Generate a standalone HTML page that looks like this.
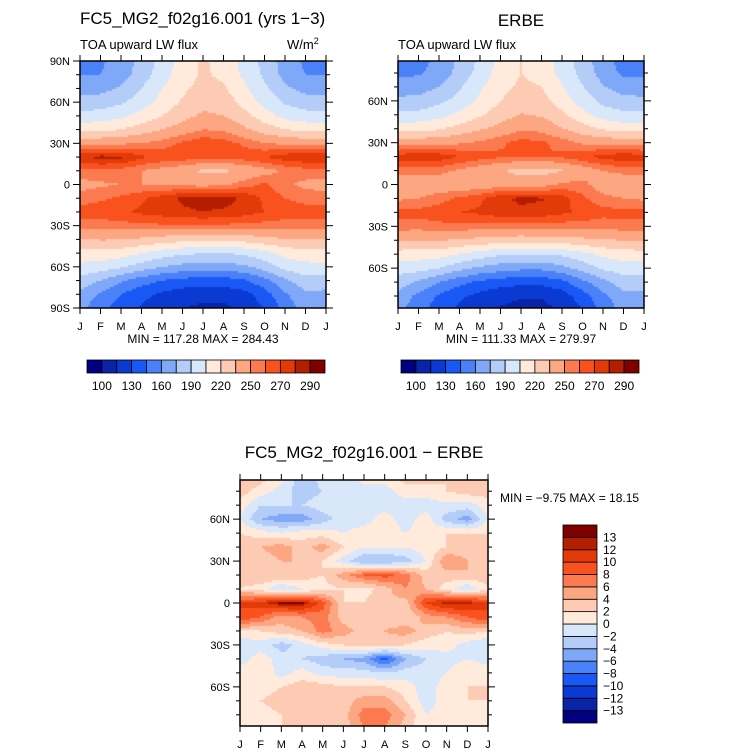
<!DOCTYPE html>
<html><head><meta charset="utf-8"><style>
body{margin:0;background:#fff;width:733px;height:754px;overflow:hidden;position:relative;font-family:"Liberation Sans",sans-serif}
canvas{position:absolute}
svg{position:absolute;left:0;top:0}
text{font-family:"Liberation Sans",sans-serif;fill:#000}
</style></head><body>
<canvas id="c1" style="left:80px;top:61px" width="246" height="247"></canvas>
<canvas id="c2" style="left:398px;top:61px" width="246" height="247"></canvas>
<canvas id="c3" style="left:240px;top:480px" width="248" height="246"></canvas>
<svg id="ov" width="733" height="754"></svg>
<script>
const months=["J","F","M","A","M","J","J","A","S","O","N","D","J"];
const lats=[90,80,70,60,50,40,30,20,10,0,-10,-20,-30,-40,-50,-60,-70,-80,-90];
const palette=["#000080","#0a24a8","#0a3ad2","#1a58f5","#4a80f8","#80a8f8","#b4ccf8","#d8e8fa","#ffeadc","#fdcbb4","#fca682","#fb7a50","#f9521e","#e23a08","#b41e00","#800000"];
const fluxLevels=[100,115,130,145,160,175,190,205,220,235,250,260,270,280,290];
const fluxLabels=["100","","130","","160","","190","","220","","250","","270","","290"];
const diffLevels=[-13,-12,-10,-8,-6,-4,-2,0,2,4,6,8,10,12,13];
const diffLabels=["−13","−12","−10","−8","−6","−4","−2","0","2","4","6","8","10","12","13"];
const model=[
[155,158,165,180,195,212,222,215,200,185,168,157,155],
[160,160,168,182,198,213,222,217,202,187,170,160,160],
[170,170,177,190,205,217,225,222,208,193,178,170,170],
[180,182,188,198,210,222,230,228,215,200,188,182,180],
[195,197,202,210,220,230,238,235,225,212,200,196,195],
[215,217,220,228,235,242,250,248,238,228,220,216,215],
[245,246,248,250,255,262,268,265,258,250,248,245,245],
[278,283,282,272,268,266,265,265,266,270,276,279,278],
[258,258,256,250,245,240,232,232,238,245,252,256,258],
[245,248,250,250,248,247,245,248,255,262,252,247,245],
[255,258,262,268,275,282,286,285,278,268,260,256,255],
[265,266,268,272,275,278,280,278,275,270,266,265,265],
[255,255,256,258,258,258,258,258,257,256,255,255,255],
[235,236,236,232,228,225,224,224,226,230,234,235,235],
[215,214,212,205,198,193,190,190,193,200,210,214,215],
[200,198,192,183,175,170,168,168,172,182,195,200,200],
[185,175,162,152,145,140,138,138,143,155,172,185,185],
[170,158,145,135,127,122,120,120,125,138,158,172,170],
[165,150,138,128,120,115,112,112,118,130,150,168,165]];
const erbe=[
[152,155,163,178,193,210,220,213,198,183,165,154,152],
[157,158,166,180,196,211,220,215,200,185,168,157,157],
[168,168,175,188,203,215,223,220,206,191,176,168,168],
[178,180,186,196,208,220,228,226,213,198,186,180,178],
[193,195,200,208,218,228,236,233,223,210,198,194,193],
[213,215,218,226,233,240,248,246,236,226,218,214,213],
[243,244,246,248,252,258,264,262,256,248,246,243,243],
[275,278,276,270,265,262,260,260,262,268,274,277,275],
[255,256,254,248,242,236,230,230,234,242,250,254,255],
[238,240,240,240,240,244,243,245,252,254,242,238,238],
[248,250,256,262,268,278,282,281,275,262,254,250,248],
[263,264,266,270,272,276,278,276,272,268,264,263,263],
[256,255,257,257,256,256,255,255,255,255,254,256,256],
[235,235,236,233,230,227,226,228,228,231,234,235,235],
[214,212,211,204,198,192,190,191,193,200,208,213,214],
[197,196,190,180,172,167,164,164,170,181,193,197,197],
[183,173,160,150,142,137,134,134,141,156,170,183,183],
[170,156,143,133,125,119,116,116,122,138,156,170,170],
[165,150,137,127,118,113,111,111,116,130,150,166,165]];
const diff=[
[4,3,1,-4,-1,-1,1,1,3,3,2,4,4],
[3,1,-1,-3,-2,-1.5,-1,-1,1,1,2,3,3],
[1,-2,-2,-2,-1,-1,-1,-1,-1,-1,-0.5,-1,1],
[0,-4,-5,-5,-3,-1,-1,1,-1,1,-3,-5,0],
[2,1,0,1,1,0,1,1,0,1,2,2,2],
[3,4,5,3,5,2,0,0,0,1,2,3,3],
[3,3,4,4,2,-1,-4,-4,-3,0,6,4,3],
[3,4,4,3,2,5,8,9,7,3,3,4,3],
[2,1,-2,0,1,2,1,3,6,4,1,-2,2],
[10,11,13.5,13.5,9,2,2,4,3,10,12.5,12.5,10],
[10,8,5,6,7,3,2,3,2,5,6,8,10],
[2,2,3,4,7,5,3,4,5,3,2,3,2],
[-2,-1,-3,-1,1,2,3,3,2,1,1,-1,-2],
[-1,1,-1,-2,-3,-4,-5,-9,-4,-2,-1,0,-1],
[1,2,-1,1,-1,-1,-1,-2,-1,-1,0,2,1],
[2,1,2,3,3,2,2,2,1,-1,1,2,2],
[2,2,3,3,4,3,5,5,2,-1,1,2,2],
[0,1,2,2,3,3,7,7,4,0,1,1,0],
[1,2,2,2,2,3,6,6,3,0,2,2,1]];

function colorFor(v,lv){let i=0;while(i<lv.length&&v>=lv[i])i++;return palette[i];}
function sample(g,m,la){
  const mi=Math.max(0,Math.min(11.9999,m));const m0=Math.floor(mi),fm=mi-m0;
  const r=(90-la)/10;const ri=Math.max(0,Math.min(17.9999,r));const r0=Math.floor(ri),fr=ri-r0;
  const a=g[r0][m0]*(1-fm)+g[r0][m0+1]*fm, b=g[r0+1][m0]*(1-fm)+g[r0+1][m0+1]*fm;
  return a*(1-fr)+b*fr;}
function drawField(id,g,lv,latTop,latBot){
  const c=document.getElementById(id),ctx=c.getContext('2d'),W=c.width,H=c.height,s=2;
  for(let y=0;y<H;y+=s)for(let x=0;x<W;x+=s){
    const m=(x+s/2)/W*12, la=latTop-(y+s/2)/H*(latTop-latBot);
    ctx.fillStyle=colorFor(sample(g,m,la),lv);ctx.fillRect(x,y,s,s);}
}
drawField('c1',model,fluxLevels,90,-90);
drawField('c2',erbe,fluxLevels,88.6,-88.6);
drawField('c3',diff,diffLevels,88,-88);

const ov=document.getElementById('ov');const NS="http://www.w3.org/2000/svg";
function el(t,a,txt){const e=document.createElementNS(NS,t);for(const k in a)e.setAttribute(k,a[k]);if(txt!==undefined)e.textContent=txt;ov.appendChild(e);return e;}
function panel(name,x0,y0,w,h,latTop,latBot,latLabelsShown){
  const r=el('rect',{x:x0,y:y0,width:w,height:h,fill:'none',stroke:'#000','stroke-width':1.5});
  
  const yOf=la=>y0+(latTop-la)/(latTop-latBot)*h;
  for(let la=-90;la<=90;la+=10){
    if(la>latTop+0.01||la<latBot-0.01)continue;
    const y=yOf(la),maj=la%30===0,L=maj?7:4;
    el('line',{x1:x0-L,y1:y,x2:x0,y2:y,stroke:'#000','stroke-width':1});
    el('line',{x1:x0+w,y1:y,x2:x0+w+L,y2:y,stroke:'#000','stroke-width':1});
    if(maj&&latLabelsShown){const lab=la===0?'0':(Math.abs(la)+(la>0?'N':'S'));
      const t=el('text',{x:x0-10,y:y+4,'font-size':11,'text-anchor':'end'},lab);
      }
  }
  for(let i=0;i<=12;i++){const x=x0+i/12*w;
    el('line',{x1:x,y1:y0+h,x2:x,y2:y0+h+6,stroke:'#000','stroke-width':1});
    el('line',{x1:x,y1:y0-6,x2:x,y2:y0,stroke:'#000','stroke-width':1});
    const t=el('text',{x:x,y:y0+h+22,'font-size':11,'text-anchor':'middle'},months[i]);
    }
}
panel('model',80,61,246,247,90,-90,true);
panel('erbe',398,61,246,247,88.6,-88.6,true);
panel('diff',240,480,248,246,88,-88,true);

function txt(name,x,y,s,t,anchor){const e=el('text',{x:x,y:y,'font-size':s,'text-anchor':anchor||'start'},t);
  return e;}
txt('model-title',80,24,17,'FC5_MG2_f02g16.001 (yrs 1−3)');
txt('erbe-title',521,26,17,'ERBE','middle');
txt('model-subtitle',80,49,13,'TOA upward LW flux');
txt('erbe-subtitle',398,49,13,'TOA upward LW flux');
const u=txt('units-label',287,49,13,'W/m');const sup=document.createElementNS(NS,'tspan');sup.setAttribute('dy','-5');sup.setAttribute('font-size','9');sup.textContent='2';u.appendChild(sup);
txt('model-minmax',203,343,12,'MIN = 117.28 MAX = 284.43','middle');
txt('erbe-minmax',521,343,12,'MIN = 111.33 MAX = 279.97','middle');
txt('diff-title',364,458,17,'FC5_MG2_f02g16.001 − ERBE','middle');
txt('diff-minmax',500,502,12,'MIN =  −9.75 MAX =  18.15');

function hbar(name,x0,y0,w,h){const bw=w/16;
  for(let i=0;i<16;i++){const r=el('rect',{x:x0+i*bw,y:y0,width:bw,height:h,fill:palette[i],stroke:'#000','stroke-width':0.8});
    }
  for(let i=0;i<fluxLabels.length;i++){if(!fluxLabels[i])continue;
    txt(name+'-label',x0+(i+1)*bw,y0+h+17,12,fluxLabels[i],'middle');}
}
hbar('model-colorbar',87,360,238,13);
hbar('erbe-colorbar',401,360,238,13);
(function(){const x0=563,y0=525,w=34,H=198,bh=H/16;
  for(let i=0;i<16;i++){const r=el('rect',{x:x0,y:y0+(15-i)*bh,width:w,height:bh,fill:palette[i],stroke:'#000','stroke-width':0.8});
    }
  for(let i=0;i<diffLabels.length;i++){txt('diff-colorbar-label',x0+w+6,y0+(15-i)*bh+4,12,diffLabels[i]);}
})();
</script>
</body></html>
